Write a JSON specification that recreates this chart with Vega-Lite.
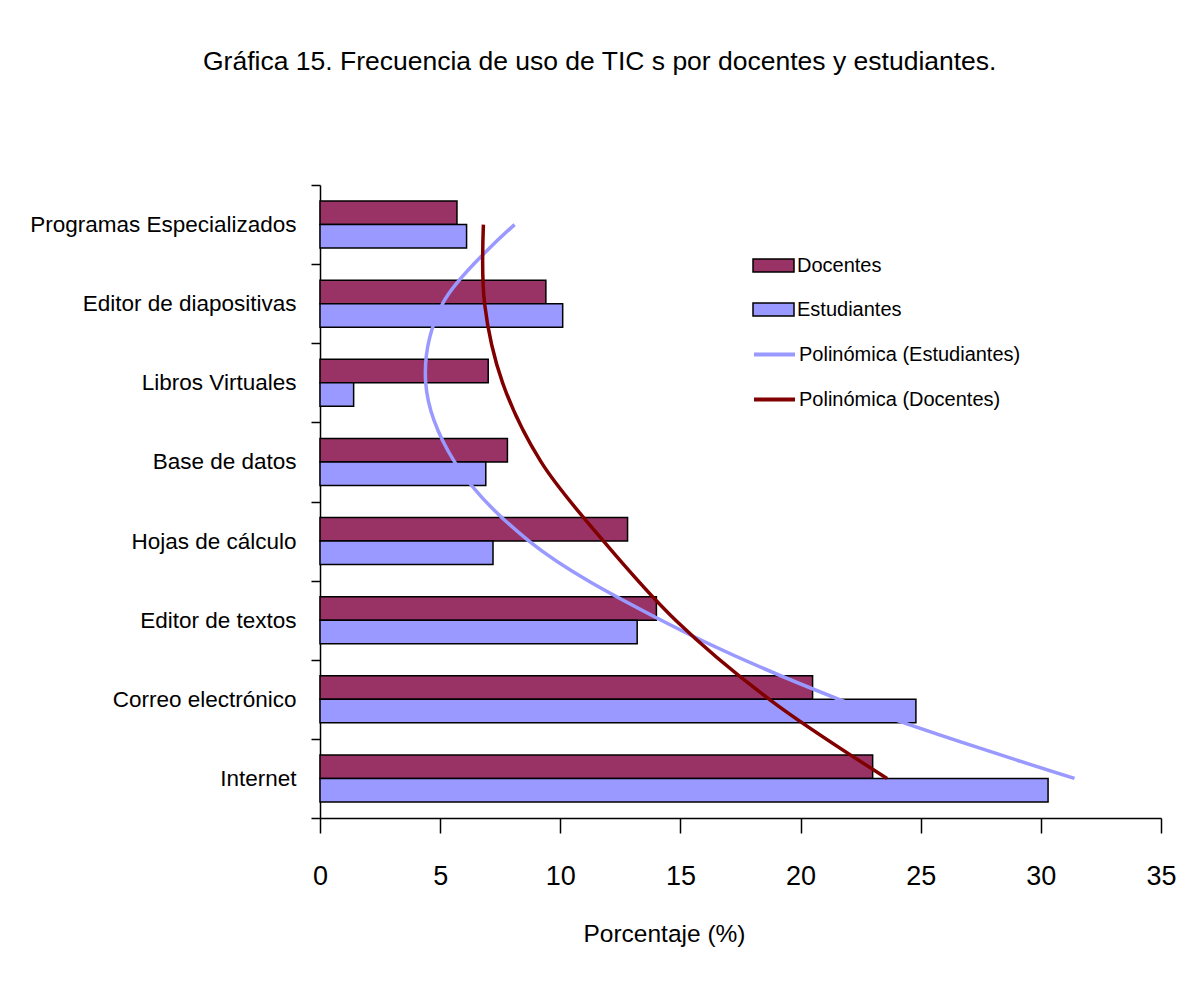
{
  "$schema": "https://vega.github.io/schema/vega-lite/v6.json",
  "autosize": {"type": "none"},
  "width": 841,
  "height": 633,
  "padding": {"left": 320, "top": 185, "right": 27, "bottom": 187},
  "background": "white",
  "title": {
    "text": "Gráfica 15. Frecuencia de uso de TIC s por docentes y estudiantes.",
    "font": "Liberation Sans",
    "fontSize": 26.5,
    "fontWeight": "normal",
    "color": "black",
    "anchor": "start",
    "frame": "group",
    "dx": -117,
    "offset": 99
  },
  "config": {
    "view": {"stroke": null},
    "axis": {"grid": false, "domainColor": "black", "tickColor": "black", "labelColor": "black", "titleColor": "black"}
  },
  "datasets": {
    "barras": [
      {"categoria": "Programas Especializados", "serie": "Docentes", "valor": 5.7},
      {"categoria": "Programas Especializados", "serie": "Estudiantes", "valor": 6.1},
      {"categoria": "Editor de diapositivas", "serie": "Docentes", "valor": 9.4},
      {"categoria": "Editor de diapositivas", "serie": "Estudiantes", "valor": 10.1},
      {"categoria": "Libros Virtuales", "serie": "Docentes", "valor": 7.0},
      {"categoria": "Libros Virtuales", "serie": "Estudiantes", "valor": 1.4},
      {"categoria": "Base de datos", "serie": "Docentes", "valor": 7.8},
      {"categoria": "Base de datos", "serie": "Estudiantes", "valor": 6.9},
      {"categoria": "Hojas de cálculo", "serie": "Docentes", "valor": 12.8},
      {"categoria": "Hojas de cálculo", "serie": "Estudiantes", "valor": 7.2},
      {"categoria": "Editor de textos", "serie": "Docentes", "valor": 14.0},
      {"categoria": "Editor de textos", "serie": "Estudiantes", "valor": 13.2},
      {"categoria": "Correo electrónico", "serie": "Docentes", "valor": 20.5},
      {"categoria": "Correo electrónico", "serie": "Estudiantes", "valor": 24.8},
      {"categoria": "Internet", "serie": "Docentes", "valor": 23.0},
      {"categoria": "Internet", "serie": "Estudiantes", "valor": 30.3}
    ],
    "tendencias": [
      {"categoria": "Programas Especializados", "tendencia": "Polinómica (Estudiantes)", "orden": 1, "valor": 8.1},
      {"categoria": "Editor de diapositivas", "tendencia": "Polinómica (Estudiantes)", "orden": 2, "valor": 5.1},
      {"categoria": "Libros Virtuales", "tendencia": "Polinómica (Estudiantes)", "orden": 3, "valor": 4.4},
      {"categoria": "Base de datos", "tendencia": "Polinómica (Estudiantes)", "orden": 4, "valor": 5.6},
      {"categoria": "Hojas de cálculo", "tendencia": "Polinómica (Estudiantes)", "orden": 5, "valor": 8.7},
      {"categoria": "Editor de textos", "tendencia": "Polinómica (Estudiantes)", "orden": 6, "valor": 14.2},
      {"categoria": "Correo electrónico", "tendencia": "Polinómica (Estudiantes)", "orden": 7, "valor": 21.6},
      {"categoria": "Internet", "tendencia": "Polinómica (Estudiantes)", "orden": 8, "valor": 31.4},
      {"categoria": "Programas Especializados", "tendencia": "Polinómica (Docentes)", "orden": 1, "valor": 6.8},
      {"categoria": "Editor de diapositivas", "tendencia": "Polinómica (Docentes)", "orden": 2, "valor": 6.85},
      {"categoria": "Libros Virtuales", "tendencia": "Polinómica (Docentes)", "orden": 3, "valor": 7.6},
      {"categoria": "Base de datos", "tendencia": "Polinómica (Docentes)", "orden": 4, "valor": 9.2},
      {"categoria": "Hojas de cálculo", "tendencia": "Polinómica (Docentes)", "orden": 5, "valor": 11.8},
      {"categoria": "Editor de textos", "tendencia": "Polinómica (Docentes)", "orden": 6, "valor": 14.8},
      {"categoria": "Correo electrónico", "tendencia": "Polinómica (Docentes)", "orden": 7, "valor": 18.7},
      {"categoria": "Internet", "tendencia": "Polinómica (Docentes)", "orden": 8, "valor": 23.6}
    ]
  },
  "encoding": {
    "y": {
      "field": "categoria",
      "type": "nominal",
      "sort": ["Programas Especializados", "Editor de diapositivas", "Libros Virtuales", "Base de datos", "Hojas de cálculo", "Editor de textos", "Correo electrónico", "Internet"],
      "scale": {"paddingInner": 0, "paddingOuter": 0},
      "axis": {
        "title": null,
        "tickBand": "extent",
        "tickSize": 9,
        "tickWidth": 1.5,
        "domainWidth": 1.5,
        "labelPadding": 15,
        "labelFont": "Liberation Sans",
        "labelFontSize": 22.5,
        "labelLimit": 0
      }
    },
    "x": {
      "field": "valor",
      "type": "quantitative",
      "scale": {"domain": [0, 35], "nice": false},
      "axis": {
        "title": "Porcentaje (%)",
        "values": [0, 5, 10, 15, 20, 25, 30, 35],
        "tickSize": 15,
        "tickWidth": 1.5,
        "domainWidth": 1.5,
        "labelPadding": 30,
        "labelFont": "Liberation Sans",
        "labelFontSize": 27,
        "labelFlush": false,
        "titleFont": "Liberation Sans",
        "titleFontSize": 24.5,
        "titleFontWeight": "normal",
        "titlePadding": 33,
        "titleX": 344
      }
    }
  },
  "layer": [
    {
      "data": {"name": "barras"},
      "mark": {"type": "bar", "stroke": "black", "strokeWidth": 1.5},
      "encoding": {
        "yOffset": {"field": "serie", "type": "nominal", "sort": ["Docentes", "Estudiantes"], "scale": {"paddingInner": 0, "paddingOuter": 0.68}},
        "fill": {
          "field": "serie",
          "type": "nominal",
          "scale": {"domain": ["Docentes", "Estudiantes"], "range": ["#993366", "#9999FF"]},
          "legend": {
            "title": null,
            "orient": "none",
            "legendX": 432,
            "legendY": 59,
            "padding": 0,
            "symbolType": "M-1,-0.32H1V0.32H-1Z",
            "symbolSize": 1681,
            "symbolStrokeColor": "black",
            "symbolStrokeWidth": 1.5,
            "symbolOpacity": 1,
            "rowPadding": 12,
            "labelOffset": 2,
            "labelLimit": 0,
            "labelFont": "Liberation Sans",
            "labelFontSize": 20,
            "labelColor": "black"
          }
        }
      }
    },
    {
      "data": {"name": "tendencias"},
      "mark": {"type": "line", "strokeWidth": 3.5, "interpolate": "catmull-rom"},
      "encoding": {
        "order": {"field": "orden", "type": "quantitative"},
        "stroke": {
          "field": "tendencia",
          "type": "nominal",
          "scale": {"domain": ["Polinómica (Estudiantes)", "Polinómica (Docentes)"], "range": ["#9999FF", "#800000"]},
          "legend": {
            "title": null,
            "orient": "none",
            "legendX": 432,
            "legendY": 147,
            "padding": 0,
            "symbolType": "stroke",
            "symbolSize": 1681,
            "symbolStrokeWidth": 4,
            "rowPadding": 12,
            "labelOffset": 2,
            "labelLimit": 0,
            "labelFont": "Liberation Sans",
            "labelFontSize": 20,
            "labelColor": "black"
          }
        }
      }
    }
  ]
}
